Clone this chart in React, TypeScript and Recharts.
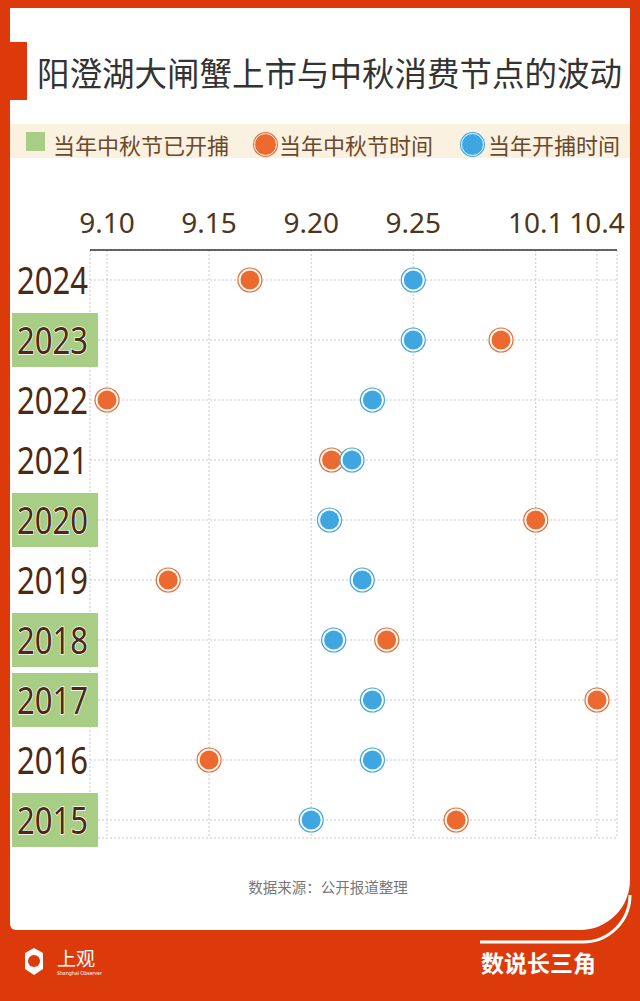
import React from "react";
import { ScatterChart, Scatter, XAxis, YAxis, CartesianGrid } from "recharts";

// rows, top to bottom
const years = ["2024", "2023", "2022", "2021", "2020", "2019", "2018", "2017", "2016", "2015"];

// day counted from Sep 1 (Oct 1 = 31)
const festivalDay = [17, 29.3, 10, 21, 31, 13, 23.7, 34, 15, 27.1];
const openingDay = [25, 25, 23, 22, 20.9, 22.5, 21.1, 23, 23, 20];

const xTicks = [10, 15, 20, 25, 31, 34];
const xTickLabels = ["9.10", "9.15", "9.20", "9.25", "10.1", "10.4"];

const RED = "#dc3a0a";
const ORANGE = "#ec6a2f";
const BLUE = "#3ea6e0";
const GREEN = "#a8cd84";
const SANS = "'Noto Sans', 'Noto Sans CJK SC', sans-serif";
const CJK = "'Noto Sans CJK SC', 'Noto Sans', sans-serif";

const rowIdx = years.map((_, i) => i);
const festivalData = years.map((y, i) => ({ year: y, row: i, day: festivalDay[i] }));
const openingData = years.map((y, i) => ({ year: y, row: i, day: openingDay[i] }));
// green label when the festival came after opening day
const opened = years.map((_, i) => festivalDay[i] > openingDay[i]);

const XTick = (props: any) => {
  const { x, payload } = props;
  const i = xTicks.indexOf(payload.value);
  return (
    <text x={x} y={233} textAnchor="middle" fontSize={28} fill="#4d3520" fontFamily={SANS}>
      {xTickLabels[i]}
    </text>
  );
};

const YearTick = (props: any) => {
  const { y, payload } = props;
  const i = payload.value;
  return (
    <g>
      {opened[i] && <rect x={12} y={y - 27} width={86} height={54} fill={GREEN} />}
      <text
        x={17}
        y={y + 14}
        fontSize={38}
        fill="#4a2a10"
        stroke="#fff"
        strokeWidth={1.5}
        paintOrder="stroke"
        fontFamily={SANS}
        textLength={71}
        lengthAdjust="spacingAndGlyphs"
      >
        {years[i]}
      </text>
    </g>
  );
};

const dot = (color: string) => (props: any) => {
  const { cx, cy } = props;
  return (
    <g>
      <circle cx={cx} cy={cy} r={12} fill="#fff" stroke={color} strokeWidth={1.2} />
      <circle cx={cx} cy={cy} r={9.5} fill={color} />
    </g>
  );
};

const LegendDot = ({ color }: { color: string }) => (
  <div
    style={{
      width: 21,
      height: 21,
      borderRadius: "50%",
      background: color,
      border: "1.5px solid #fff",
      boxShadow: `0 0 0 1px ${color}`,
    }}
  />
);

export default function App() {
  return (
    <div style={{ position: "absolute", left: 0, top: 0, width: 640, height: 1001, background: RED, overflow: "hidden" }}>
      {/* white card */}
      <div
        style={{
          position: "absolute",
          left: 10,
          top: 8,
          width: 620,
          height: 922,
          background: "#fff",
          borderRadius: "0 0 50px 6px",
        }}
      />
      <div style={{ position: "absolute", left: 10, top: 42, width: 17, height: 58, background: RED }} />
      <div
        style={{
          position: "absolute",
          left: 37,
          top: 52,
          fontFamily: CJK,
          fontSize: 32.5,
          lineHeight: "40px",
          color: "#333",
          whiteSpace: "nowrap",
        }}
      >
        阳澄湖大闸蟹上市与中秋消费节点的波动
      </div>

      {/* legend */}
      <div style={{ position: "absolute", left: 10, top: 124, width: 620, height: 34, background: "#fbf1e0" }} />
      <div style={{ position: "absolute", left: 26, top: 132, width: 19, height: 19, background: GREEN }} />
      <div style={{ position: "absolute", left: 254, top: 133 }}>
        <LegendDot color={ORANGE} />
      </div>
      <div style={{ position: "absolute", left: 461, top: 133 }}>
        <LegendDot color={BLUE} />
      </div>
      {[
        { x: 53, t: "当年中秋节已开捕" },
        { x: 279, t: "当年中秋节时间" },
        { x: 488, t: "当年开捕时间" },
      ].map((d) => (
        <div
          key={d.t}
          style={{
            position: "absolute",
            left: d.x,
            top: 129,
            fontFamily: CJK,
            fontSize: 22,
            lineHeight: "30px",
            color: "#6a4a2e",
            whiteSpace: "nowrap",
          }}
        >
          {d.t}
        </div>
      ))}

      <div style={{ position: "absolute", left: 0, top: 0 }}>
        <ScatterChart width={640} height={860} margin={{ top: 200, right: 23, bottom: 22, left: 0 }}>
          <CartesianGrid strokeDasharray="2 2" stroke="#c9c9c9" />
          <XAxis
            type="number"
            dataKey="day"
            orientation="top"
            height={50}
            domain={[9.167, 34.98]}
            ticks={xTicks}
            interval={0}
            tickLine={false}
            axisLine={{ stroke: "#333", strokeWidth: 1.5 }}
            tick={<XTick />}
            allowDataOverflow
          />
          <YAxis
            type="number"
            dataKey="row"
            domain={[-0.5, 9.3]}
            reversed
            ticks={rowIdx}
            interval={0}
            width={90}
            axisLine={false}
            tickLine={false}
            tick={<YearTick />}
            allowDataOverflow
          />
          <Scatter data={festivalData} fill={ORANGE} shape={dot(ORANGE)} isAnimationActive={false} />
          <Scatter data={openingData} fill={BLUE} shape={dot(BLUE)} isAnimationActive={false} />
        </ScatterChart>
      </div>

      <div
        style={{
          position: "absolute",
          left: 0,
          width: 656,
          top: 876,
          textAlign: "center",
          fontFamily: CJK,
          fontSize: 14.5,
          color: "#777",
        }}
      >
        数据来源：公开报道整理
      </div>

      {/* footer */}
      <svg width={640} height={1001} style={{ position: "absolute", left: 0, top: 0 }}>
        <path d="M480 942 H583 A47 47 0 0 0 630 895" fill="none" stroke="#fff" strokeWidth={3} />
        <polygon points="34,948 43,953 43,969 34,975 25,969 25,953" fill="#fff" />
        <circle cx={34} cy={961} r={6} fill={RED} />
        <text x={57} y={966} fontSize={19} fill="#fff" fontFamily={CJK}>
          上观
        </text>
        <text x={57} y={975} fontSize={5} fill="#fff" fontFamily={SANS}>
          Shanghai Observer
        </text>
        <text x={481} y={972} fontSize={23} fontWeight={700} fill="#fff" fontFamily={CJK}>
          数说长三角
        </text>
      </svg>
    </div>
  );
}
